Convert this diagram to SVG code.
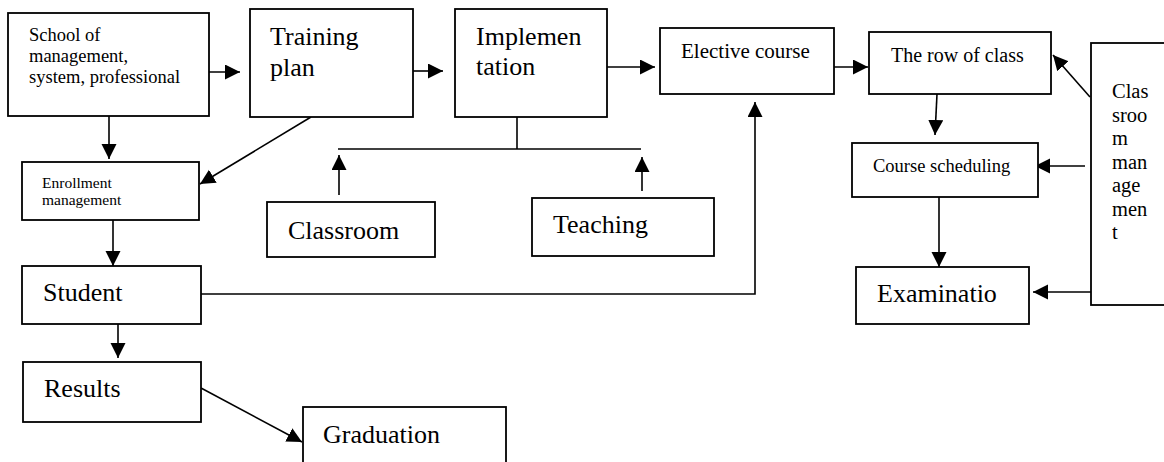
<svg xmlns="http://www.w3.org/2000/svg" width="1164" height="462" viewBox="0 0 1164 462">
<defs>
<marker id="ah" markerUnits="userSpaceOnUse" markerWidth="16" markerHeight="16" refX="15" refY="7.5" orient="auto">
<path d="M0,0 L15,7.5 L0,15 Z" fill="#000"/>
</marker>
<style>
.box{fill:#fff;stroke:#000;stroke-width:1.8}
.c{fill:none;stroke:#000;stroke-width:1.6}
.a{marker-end:url(#ah)}
text{font-family:"Liberation Serif","Times New Roman",serif;fill:#000}
.big{font-size:26px}
</style>
</defs>
<rect width="1164" height="462" fill="#fff"/>
<g id="connectors">
<line class="c a" x1="207" y1="72" x2="240" y2="72"/>
<line class="c a" x1="109" y1="116" x2="109" y2="159"/>
<line class="c a" x1="311" y1="117" x2="200" y2="184"/>
<line class="c a" x1="413" y1="71" x2="443" y2="71"/>
<line class="c a" x1="604" y1="67" x2="655" y2="67"/>
<line class="c" x1="517" y1="117" x2="517" y2="149"/>
<line class="c" x1="338" y1="149" x2="641" y2="149"/>
<line class="c a" x1="339" y1="195" x2="339" y2="155"/>
<line class="c a" x1="642" y1="191" x2="642" y2="157"/>
<line class="c a" x1="821" y1="67" x2="868" y2="67"/>
<line class="c a" x1="937" y1="94" x2="935" y2="135"/>
<line class="c a" x1="1090" y1="97" x2="1053" y2="55"/>
<line class="c a" x1="1085" y1="166" x2="1035" y2="166"/>
<line class="c a" x1="1091" y1="292" x2="1033" y2="292"/>
<line class="c a" x1="939" y1="197" x2="939" y2="267"/>
<line class="c a" x1="113" y1="220" x2="113" y2="266"/>
<polyline class="c a" points="201,294 755,294 755,102"/>
<line class="c a" x1="118" y1="324" x2="118" y2="358"/>
<line class="c a" x1="201" y1="388" x2="302" y2="442"/>
</g>
<g id="school">
<rect class="box" x="8" y="13" width="201" height="103"/>
<text x="29" y="41" font-size="18.5">School of</text>
<text x="29" y="62" font-size="18.5">management,</text>
<text x="29" y="83" font-size="18.5">system, professional</text>
</g>
<g id="training">
<rect class="box" x="250" y="9" width="163" height="108"/>
<text class="big" x="270" y="45">Training</text>
<text class="big" x="270" y="76">plan</text>
</g>
<g id="implementation">
<rect class="box" x="455" y="9" width="152" height="108"/>
<text class="big" x="476" y="45">Implemen</text>
<text class="big" x="476" y="75">tation</text>
</g>
<g id="elective">
<rect class="box" x="660" y="28" width="174" height="66"/>
<text x="681" y="58" font-size="21">Elective course</text>
</g>
<g id="row">
<rect class="box" x="869" y="32" width="182" height="62"/>
<text x="891" y="62" font-size="20">The row of class</text>
</g>
<g id="classroom-management">
<rect class="box" x="1091" y="43" width="74" height="262"/>
<text x="1112" y="98" font-size="20.5">Clas</text>
<text x="1112" y="121.5" font-size="20.5">sroo</text>
<text x="1112" y="145" font-size="20.5">m</text>
<text x="1112" y="168.5" font-size="20.5">man</text>
<text x="1112" y="192" font-size="20.5">age</text>
<text x="1112" y="215.5" font-size="20.5">men</text>
<text x="1112" y="239" font-size="20.5">t</text>
</g>
<g id="enrollment">
<rect class="box" x="22" y="162" width="177" height="58"/>
<text x="42" y="188" font-size="15.5">Enrollment</text>
<text x="42" y="205" font-size="15.5">management</text>
</g>
<g id="classroom">
<rect class="box" x="267" y="202" width="168" height="55"/>
<text class="big" x="288" y="239">Classroom</text>
</g>
<g id="teaching">
<rect class="box" x="532" y="198" width="182" height="58"/>
<text class="big" x="553" y="233">Teaching</text>
</g>
<g id="course-scheduling">
<rect class="box" x="852" y="143" width="186" height="54"/>
<text x="873" y="172" font-size="18.5">Course scheduling</text>
</g>
<g id="examination">
<rect class="box" x="856" y="267" width="173" height="57"/>
<text class="big" x="877" y="302">Examinatio</text>
</g>
<g id="student">
<rect class="box" x="22" y="266" width="179" height="58"/>
<text class="big" x="43" y="301">Student</text>
</g>
<g id="results">
<rect class="box" x="23" y="362" width="178" height="60"/>
<text class="big" x="44" y="397">Results</text>
</g>
<g id="graduation">
<rect class="box" x="303" y="407" width="203" height="70"/>
<text class="big" x="323" y="443">Graduation</text>
</g>
</svg>
